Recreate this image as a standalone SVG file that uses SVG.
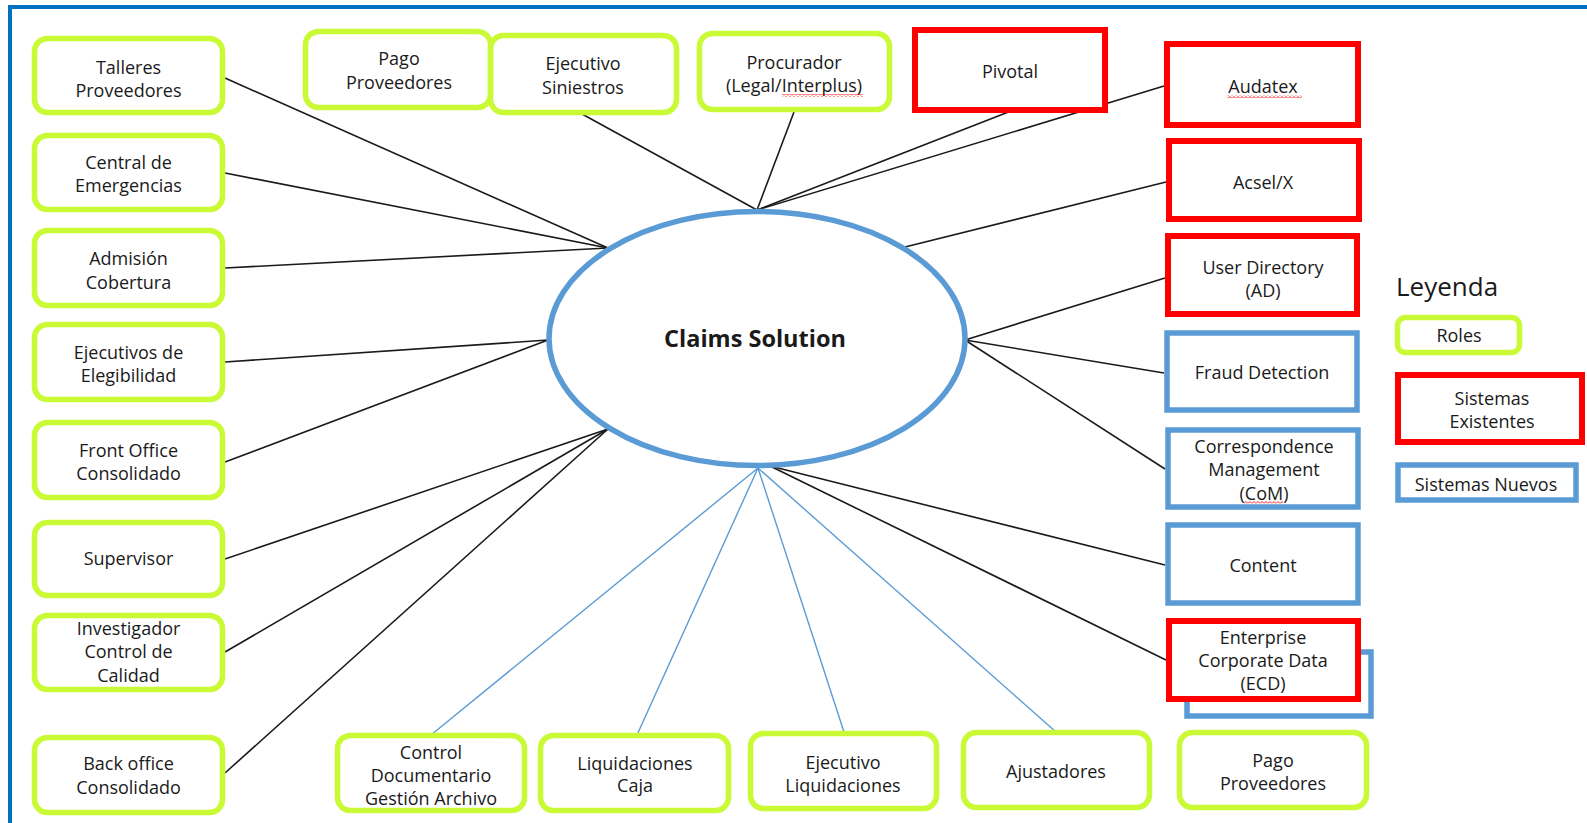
<svg xmlns="http://www.w3.org/2000/svg" width="1587" height="823" viewBox="0 0 1587 823">
  <style>
    text { font-family: "Open Sans", "Noto Sans", "Liberation Sans", sans-serif; font-size: 18px; fill: #1a1a1a; text-anchor: middle; }
    .role { fill: none; stroke: #c9fa35; stroke-width: 5.5; }
    .old { fill: #ffffff; stroke: #ff0000; stroke-width: 6; }
    .new { fill: #ffffff; stroke: #5b9bd5; stroke-width: 5.5; }
    .link { stroke: #1a1a1a; stroke-width: 1.6; fill: none; }
    .link-blue { stroke: #5b9bd5; stroke-width: 1.4; fill: none; }
    .title { font-weight: bold; font-size: 23.5px; }
    .legend-title { font-size: 26px; text-anchor: start; }
  </style>
  <defs>
    <pattern id="squiggle" width="4" height="3" patternUnits="userSpaceOnUse">
      <path d="M0,2.5 L2,0.5 L4,2.5" fill="none" stroke="#ff0000" stroke-width="0.9"/>
    </pattern>
  </defs>

  <rect x="0" y="0" width="1587" height="823" fill="#ffffff"/>
  <!-- page frame -->
  <rect x="10" y="7" width="1600" height="900" fill="none" stroke="#0070c0" stroke-width="4"/>

  <g id="connectors">
    <line class="link" x1="225" y1="78" x2="608" y2="248"/>
    <line class="link" x1="225" y1="173" x2="608" y2="248"/>
    <line class="link" x1="225" y1="268" x2="608" y2="248"/>
    <line class="link" x1="225" y1="362" x2="548" y2="340"/>
    <line class="link" x1="225" y1="462" x2="548" y2="340"/>
    <line class="link" x1="225" y1="559" x2="608" y2="429"/>
    <line class="link" x1="225" y1="652" x2="608" y2="429"/>
    <line class="link" x1="225" y1="773" x2="608" y2="429"/>
    <line class="link" x1="582" y1="114" x2="757" y2="210"/>
    <line class="link" x1="794" y1="112" x2="757" y2="210"/>
    <line class="link" x1="1011" y1="111" x2="757" y2="210"/>
    <line class="link" x1="1164" y1="86" x2="757" y2="210"/>
    <line class="link" x1="1166" y1="182" x2="905" y2="247"/>
    <line class="link" x1="1165" y1="278" x2="965" y2="340"/>
    <line class="link" x1="1164" y1="373" x2="965" y2="340"/>
    <line class="link" x1="1165" y1="469" x2="965" y2="340"/>
    <line class="link" x1="1165" y1="565" x2="770" y2="466"/>
    <line class="link" x1="1166" y1="660" x2="770" y2="466"/>
    <line class="link-blue" x1="431" y1="735" x2="758" y2="468"/>
    <line class="link-blue" x1="637" y1="735" x2="758" y2="468"/>
    <line class="link-blue" x1="844" y1="732" x2="758" y2="468"/>
    <line class="link-blue" x1="1056" y1="732" x2="758" y2="468"/>
  </g>

  <g id="claims-solution">
    <ellipse cx="757" cy="338.5" rx="208" ry="127" fill="#ffffff" stroke="#5b9bd5" stroke-width="5.5"/>
    <text class="title" x="755" y="347">Claims Solution</text>
  </g>

  <!-- roles, left column -->
  <g id="talleres-proveedores">
    <rect class="role" x="34.5" y="38.5" width="188" height="74" rx="13"/>
    <text x="128.5" y="73.5">Talleres</text>
    <text x="128.5" y="96.5">Proveedores</text>
  </g>
  <g id="central-emergencias">
    <rect class="role" x="34.5" y="135.5" width="188" height="74" rx="13"/>
    <text x="128.5" y="168.5">Central de</text>
    <text x="128.5" y="191.5">Emergencias</text>
  </g>
  <g id="admision-cobertura">
    <rect class="role" x="34.5" y="230.5" width="188" height="75" rx="13"/>
    <text x="128.5" y="264.5">Admisión</text>
    <text x="128.5" y="288.5">Cobertura</text>
  </g>
  <g id="ejecutivos-elegibilidad">
    <rect class="role" x="34.5" y="324.5" width="188" height="75" rx="13"/>
    <text x="128.5" y="358.5">Ejecutivos de</text>
    <text x="128.5" y="381.5">Elegibilidad</text>
  </g>
  <g id="front-office">
    <rect class="role" x="34.5" y="422.5" width="188" height="75" rx="13"/>
    <text x="128.5" y="456.5">Front Office</text>
    <text x="128.5" y="479.5">Consolidado</text>
  </g>
  <g id="supervisor">
    <rect class="role" x="34.5" y="522.5" width="188" height="73" rx="13"/>
    <text x="128.5" y="564.5">Supervisor</text>
  </g>
  <g id="investigador">
    <rect class="role" x="34.5" y="615.5" width="188" height="74" rx="13"/>
    <text x="128.5" y="634.5">Investigador</text>
    <text x="128.5" y="658">Control de</text>
    <text x="128.5" y="681.5">Calidad</text>
  </g>
  <g id="back-office">
    <rect class="role" x="34.5" y="737.5" width="188" height="75" rx="13"/>
    <text x="128.5" y="769.5">Back office</text>
    <text x="128.5" y="793.5">Consolidado</text>
  </g>

  <!-- roles, top row -->
  <g id="pago-proveedores-top">
    <rect class="role" x="305.5" y="31.5" width="185" height="76" rx="13"/>
    <text x="399" y="64.5">Pago</text>
    <text x="399" y="88.5">Proveedores</text>
  </g>
  <g id="ejecutivo-siniestros">
    <rect class="role" x="490.5" y="35.5" width="186" height="77" rx="13"/>
    <text x="583" y="69.5">Ejecutivo</text>
    <text x="583" y="93.5">Siniestros</text>
  </g>
  <g id="procurador">
    <rect class="role" x="699.5" y="33.5" width="190" height="76" rx="13"/>
    <text x="794" y="68.5">Procurador</text>
    <text x="794" y="91.5">(Legal/Interplus)</text>
    <rect x="782" y="94" width="81" height="3" fill="url(#squiggle)"/>
  </g>

  <!-- roles, bottom row -->
  <g id="control-documentario">
    <rect class="role" x="337.5" y="735.5" width="187" height="75" rx="13"/>
    <text x="431" y="758.5">Control</text>
    <text x="431" y="781.5">Documentario</text>
    <text x="431" y="805">Gestión Archivo</text>
  </g>
  <g id="liquidaciones-caja">
    <rect class="role" x="540.5" y="735.5" width="188" height="75" rx="13"/>
    <text x="635" y="769.5">Liquidaciones</text>
    <text x="635" y="791.5">Caja</text>
  </g>
  <g id="ejecutivo-liquidaciones">
    <rect class="role" x="750.5" y="733.5" width="186" height="75" rx="13"/>
    <text x="843" y="768.5">Ejecutivo</text>
    <text x="843" y="791.5">Liquidaciones</text>
  </g>
  <g id="ajustadores">
    <rect class="role" x="963.5" y="732.5" width="186" height="75" rx="13"/>
    <text x="1056" y="777.5">Ajustadores</text>
  </g>
  <g id="pago-proveedores-bottom">
    <rect class="role" x="1179.5" y="732.5" width="187" height="75" rx="13"/>
    <text x="1273" y="766.5">Pago</text>
    <text x="1273" y="789.5">Proveedores</text>
  </g>

  <!-- systems -->
  <g id="pivotal">
    <rect class="old" x="915" y="30" width="190" height="80"/>
    <text x="1010" y="77.5">Pivotal</text>
  </g>
  <g id="audatex">
    <rect class="old" x="1167" y="44" width="191" height="81"/>
    <text x="1263" y="92.5">Audatex</text>
    <rect x="1227" y="95" width="75" height="3" fill="url(#squiggle)"/>
  </g>
  <g id="acsel-x">
    <rect class="old" x="1169" y="141" width="190" height="78"/>
    <text x="1263" y="188.5">Acsel/X</text>
  </g>
  <g id="user-directory">
    <rect class="old" x="1168" y="236" width="189" height="78"/>
    <text x="1263" y="273.5">User Directory</text>
    <text x="1263" y="296.5">(AD)</text>
  </g>
  <g id="fraud-detection">
    <rect class="new" x="1167" y="333" width="190" height="77"/>
    <text x="1262" y="378.5">Fraud Detection</text>
  </g>
  <g id="correspondence-management">
    <rect class="new" x="1168" y="430" width="190" height="77"/>
    <text x="1264" y="452.5">Correspondence</text>
    <text x="1264" y="475.5">Management</text>
    <text x="1264" y="499.5">(CoM)</text>
    <rect x="1244" y="501" width="39" height="3" fill="url(#squiggle)"/>
  </g>
  <g id="content">
    <rect class="new" x="1168" y="525" width="190" height="78"/>
    <text x="1263" y="571.5">Content</text>
  </g>
  <g id="enterprise-corporate-data">
    <rect class="new" x="1187" y="652" width="184" height="64"/>
    <rect class="old" x="1169" y="621" width="189" height="78"/>
    <text x="1263" y="643.5">Enterprise</text>
    <text x="1263" y="666.5">Corporate Data</text>
    <text x="1263" y="689.5">(ECD)</text>
  </g>

  <!-- legend -->
  <g id="legend">
    <text class="legend-title" x="1396" y="296">Leyenda</text>
    <rect class="role" x="1397.5" y="317.5" width="122" height="35" rx="8"/>
    <text x="1459" y="341.5">Roles</text>
    <rect class="old" x="1398" y="375" width="184" height="67"/>
    <text x="1492" y="404.5">Sistemas</text>
    <text x="1492" y="427.5">Existentes</text>
    <rect class="new" x="1398" y="465" width="178" height="35"/>
    <text x="1486" y="490.5">Sistemas Nuevos</text>
  </g>
</svg>
